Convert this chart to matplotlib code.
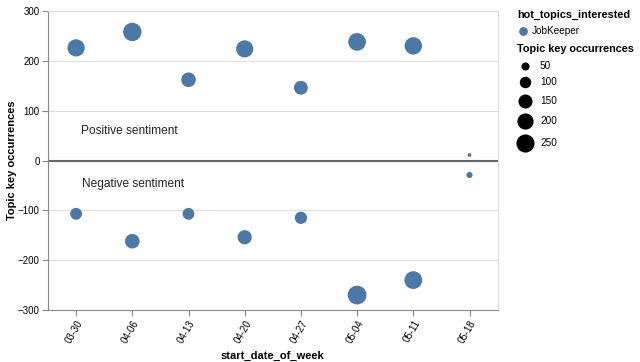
import matplotlib
matplotlib.use("Agg")
import matplotlib.pyplot as plt
import numpy as np

plt.rcParams['font.family'] = ['Liberation Sans', 'DejaVu Sans']

weeks = ["03-30", "04-06", "04-13", "04-20", "04-27", "05-04", "05-11", "05-18"]
positive = [226, 258, 162, 224, 146, 238, 230, 11]
negative = [-107, -162, -107, -154, -115, -270, -240, -29]
legend_sizes = [50, 100, 150, 200, 250]
series_name = "JobKeeper"
color = "#4c78a8"

W, H = 640, 362
fig = plt.figure(figsize=(W / 100, H / 100), dpi=100)

def px_box(x0, y0, x1, y1):
    return [x0 / W, 1 - y1 / H, (x1 - x0) / W, (y1 - y0) / H]

ax = fig.add_axes(px_box(48, 11, 497.6, 310))

def s_of(v):
    return 0.68 * abs(v)

x = np.arange(len(weeks))
ax.axhline(0, color="#666666", lw=1.5, zorder=2)
ax.scatter(x, positive, s=[s_of(v) for v in positive], color=color, lw=0, zorder=3)
ax.scatter(x, negative, s=[s_of(v) for v in negative], color=color, lw=0, zorder=3)

ax.text(0.09, 59, "Positive sentiment", fontsize=8.6, color="#222222", va="center", ha="left")
ax.text(0.11, -47, "Negative sentiment", fontsize=8.6, color="#222222", va="center", ha="left")

ax.set_xlim(-0.5, len(weeks) - 0.5)
ax.set_ylim(-300, 300)
ax.set_yticks(range(-300, 301, 100))
ax.set_xticks(x)
ax.set_xticklabels(weeks, rotation=60, ha="right", rotation_mode="anchor", fontsize=7)
ax.tick_params(axis="y", labelsize=7, length=4, color="#888888", pad=2)
ax.tick_params(axis="x", length=4, color="#888888", pad=2)
ax.grid(axis="y", color="#dddddd", lw=0.8)
ax.set_axisbelow(True)
for side in ["top", "right"]:
    ax.spines[side].set_color("#dddddd")
for side in ["left", "bottom"]:
    ax.spines[side].set_color("#888888")
ax.set_xlabel("start_date_of_week", fontsize=8, fontweight="bold", labelpad=4)
fig.text(12 / W, 1 - 160 / H, "Topic key occurrences", fontsize=8, fontweight="bold",
         rotation=90, ha="center", va="center")

# legends
lg = fig.add_axes([0, 0, 1, 1])
lg.set_xlim(0, W)
lg.set_ylim(H, 0)
lg.axis("off")
lg.text(517, 15, "hot_topics_interested", fontsize=7.8, fontweight="bold", va="center", ha="left")
lg.scatter([523], [31], s=40, color=color, lw=0)
lg.text(532, 31, series_name, fontsize=7.2, va="center", ha="left")
lg.text(517, 49, "Topic key occurrences", fontsize=7.8, fontweight="bold", va="center", ha="left")
ys = [66, 82, 101, 121, 143]
for v, yy in zip(legend_sizes, ys):
    lg.scatter([525], [yy], s=s_of(v), color="black", lw=0)
    lg.text(540, yy, str(v), fontsize=7.2, va="center", ha="left")

fig.savefig("out.png", dpi=100)
